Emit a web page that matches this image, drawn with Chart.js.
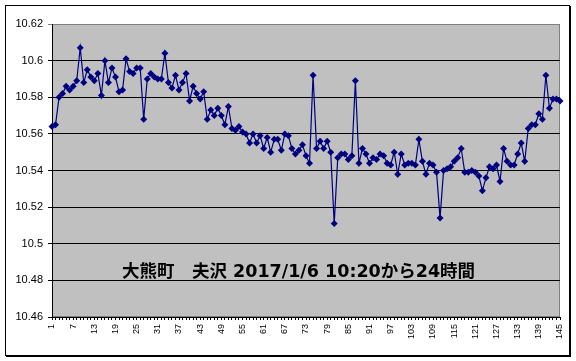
<!DOCTYPE html>
<html>
<head>
<meta charset="utf-8">
<script src="https://cdn.jsdelivr.net/npm/chart.js@4/dist/chart.umd.min.js"></script>
<style>
  body { margin:0; background:#fff; }
  #wrap { position:relative; width:576px; height:361px; }
  #frame { position:absolute; left:5px; top:5px; width:563px; height:349px;
           border:1px solid #000; box-shadow:1px 1px 0 #000; pointer-events:none; }
  #caption { position:absolute; left:122px; top:263px; white-space:nowrap;
             font:bold 17.5px "DejaVu Sans", "Noto Sans CJK JP", sans-serif; line-height:1; color:#000; }
</style>
</head>
<body>
<div id="wrap">
  <canvas id="levelChart" width="576" height="361"></canvas>
  <div id="frame"></div>
  <div id="caption">大熊町　夫沢 2017/1/6 10:20から24時間</div>
</div>
<script>
// 水位 (m) 10分毎 145点
const levels = [
  10.564, 10.565, 10.580, 10.582, 10.586, 10.584, 10.586, 10.589, 10.607, 10.588,
  10.595, 10.591, 10.589, 10.593, 10.581, 10.600, 10.588, 10.596, 10.591, 10.583,
  10.584, 10.601, 10.594, 10.593, 10.596, 10.596, 10.568, 10.590, 10.593, 10.591,
  10.590, 10.590, 10.604, 10.588, 10.585, 10.592, 10.584, 10.588, 10.593, 10.578,
  10.586, 10.582, 10.579, 10.583, 10.568, 10.573, 10.570, 10.574, 10.570, 10.565,
  10.575, 10.563, 10.562, 10.564, 10.561, 10.560, 10.555, 10.560, 10.555, 10.559,
  10.552, 10.558, 10.550, 10.557, 10.557, 10.551, 10.560, 10.559, 10.552, 10.549,
  10.551, 10.554, 10.548, 10.544, 10.592, 10.552, 10.556, 10.552, 10.556, 10.550,
  10.511, 10.547, 10.549, 10.549, 10.546, 10.548, 10.589, 10.544, 10.552, 10.549,
  10.544, 10.547, 10.546, 10.549, 10.548, 10.544, 10.543, 10.550, 10.538, 10.549,
  10.543, 10.544, 10.544, 10.543, 10.557, 10.545, 10.538, 10.544, 10.543, 10.539,
  10.514, 10.540, 10.541, 10.542, 10.545, 10.547, 10.552, 10.539, 10.539, 10.540,
  10.539, 10.537, 10.529, 10.536, 10.542, 10.541, 10.543, 10.534, 10.552, 10.545,
  10.543, 10.543, 10.549, 10.555, 10.545, 10.563, 10.565, 10.565, 10.571, 10.568,
  10.592, 10.574, 10.579, 10.579, 10.578
]

// 横軸 1..145
const categories = levels.map((v, i) => String(i + 1))
const labelEvery = 6

const yMin = 10.46
const yMax = 10.62
const yStep = 0.02

const plotBg = {
    id: "plotBg",
    beforeDraw(chart){
        const a = chart.chartArea
        const c = chart.ctx
        c.save()
        c.fillStyle = "#C0C0C0"
        c.fillRect(a.left, a.top, a.right - a.left, a.bottom - a.top)
        c.strokeStyle = "#808080"
        c.lineWidth = 1
        c.strokeRect(a.left + 0.5, a.top + 0.5, a.right - a.left - 1, a.bottom - a.top - 1)
        c.restore()
    }
}

const ctx = document.getElementById("levelChart")

new Chart(ctx, {
    type: "line",
    data: {
        labels: categories,
        datasets: [{
            data: levels,
            borderColor: "#000080",
            borderWidth: 1.2,
            pointStyle: "rectRot",
            pointRadius: 3.5,
            pointBackgroundColor: "#000080",
            pointBorderWidth: 0,
            tension: 0,
            fill: false
        }]
    },
    options: {
        responsive: false,
        devicePixelRatio: 1,
        animation: false,
        layout: { padding: { left: 0, right: 16, top: 24, bottom: 0 } },
        plugins: {
            legend: { display: false },
            tooltip: { enabled: false }
        },
        scales: {
            x: {
                offset: false,
                afterFit(scale){ scale.height = 44 },
                grid: {
                    drawOnChartArea: false,
                    tickLength: 3,
                    color: "#000"
                },
                border: { color: "#000", width: 1 },
                ticks: {
                    autoSkip: false,
                    minRotation: 90,
                    maxRotation: 90,
                    padding: 4,
                    color: "#000",
                    font: { family: "Liberation Sans", size: 9 },
                    callback(value, index){
                        return index % labelEvery === 0 ? categories[index] : ""
                    }
                }
            },
            y: {
                min: yMin,
                max: yMax,
                afterFit(scale){ scale.width = 52 },
                grid: {
                    color: (c) => (c.tick && c.tick.value > yMax - 1e-6) ? "#808080" : "#000",
                    lineWidth: 1,
                    tickLength: 4
                },
                border: { color: "#000", width: 1 },
                ticks: {
                    stepSize: yStep,
                    padding: 5,
                    color: "#000",
                    font: { family: "Liberation Sans", size: 11 },
                    callback(value){
                        return String(parseFloat(value.toFixed(2)))
                    }
                }
            }
        }
    },
    plugins: [plotBg]
})
</script>
</body>
</html>
